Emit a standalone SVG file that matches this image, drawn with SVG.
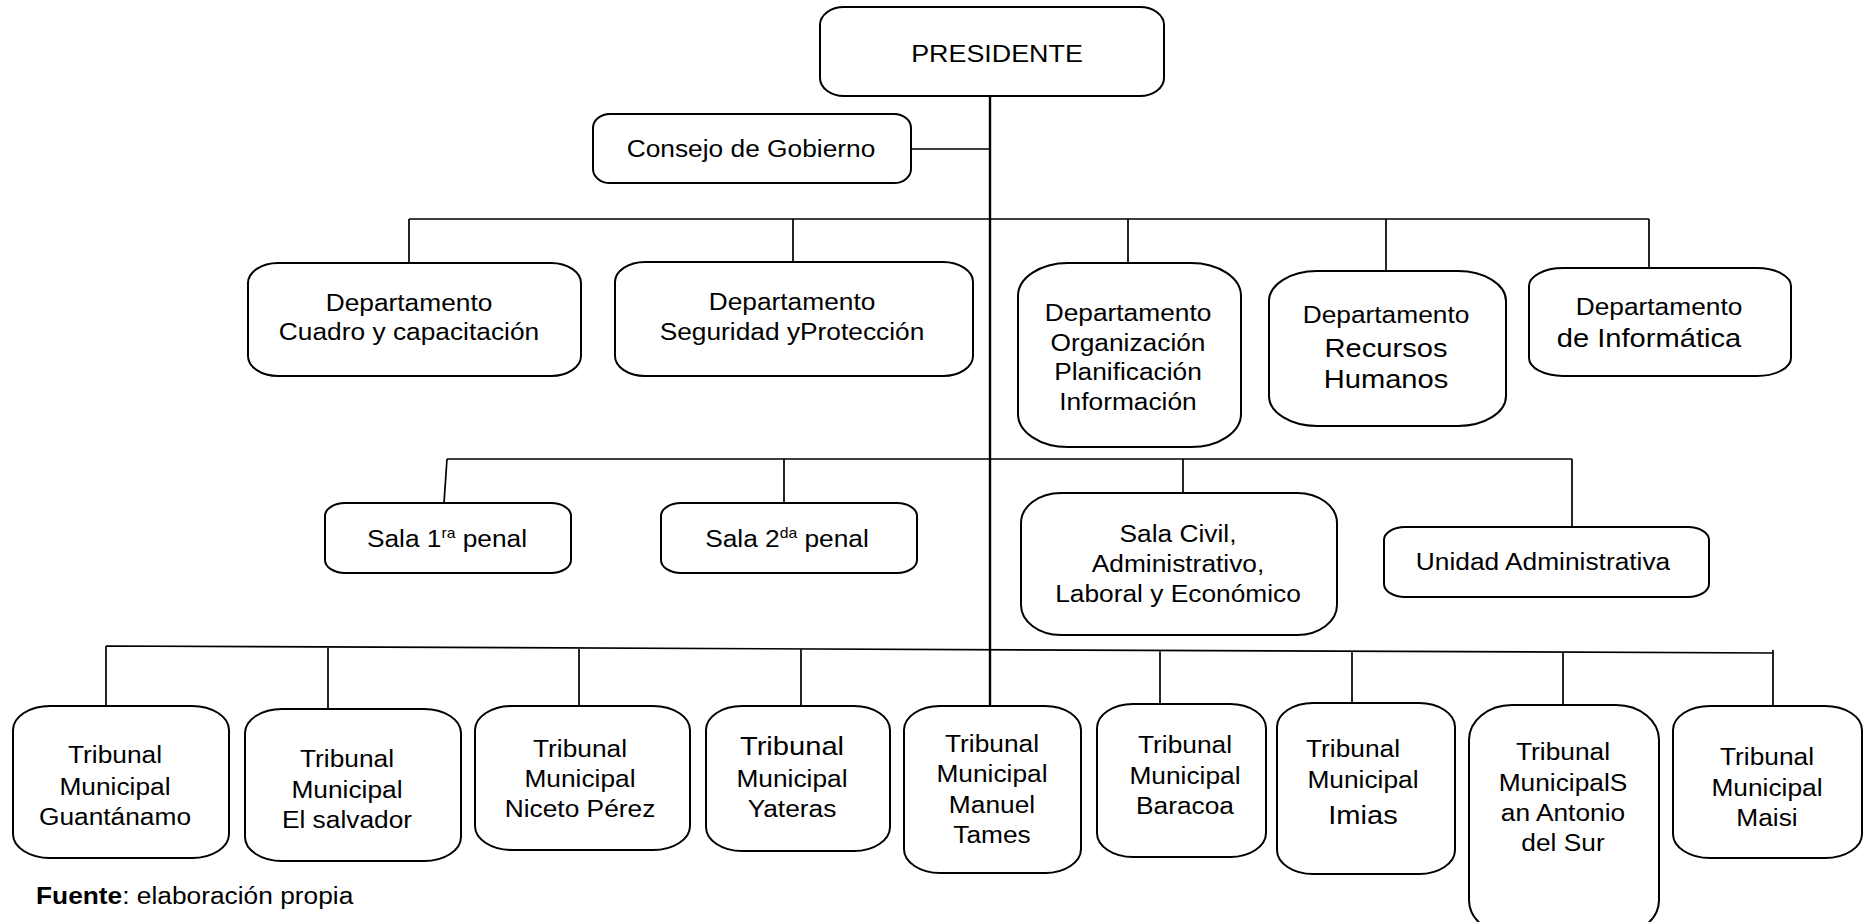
<svg xmlns="http://www.w3.org/2000/svg" width="1871" height="922" viewBox="0 0 1871 922">
<style>
.box{fill:#fff;stroke:#000;stroke-width:2}
.ln{stroke:#000;stroke-width:1.7;fill:none}
.trunk{stroke-width:2.4}
.t{font-family:"Liberation Sans",Arial,sans-serif;font-size:23.5px;fill:#000;text-anchor:middle}
.big{font-size:26px}
.sup{font-size:14px}
</style>
<rect width="1871" height="922" fill="#fff"/>
<g id="connectors">
<path class="ln trunk" d="M990 96 V706"/>
<path class="ln" d="M911 149 H990"/>
<path class="ln" d="M409 219 H1649 M409 219 V263 M793 219 V262 M1128 219 V263 M1386 219 V271 M1649 219 V268"/>
<path class="ln" d="M447 459 H1572 M447 459 L444 503 M784 459 V503 M1183 459 V493 M1572 459 V527"/>
<path class="ln" d="M106 646 L1773 653 M106 646 V706 M328 647 V709 M579 648 V706 M801 649 V706 M1160 650 V704 M1352 651 V703 M1563 652 V705 M1773 650 V706"/>
</g>
<g id="presidente">
<rect class="box" x="820" y="7" width="344" height="89" rx="24" ry="18"/>
<text class="t" style="font-size:24px" transform="translate(997 0) scale(1.12 1)" x="0" y="62">PRESIDENTE</text>
</g>
<g id="consejo">
<rect class="box" x="593" y="114" width="318" height="69" rx="17" ry="14"/>
<text class="t" transform="translate(751 0) scale(1.12 1)" x="0" y="157">Consejo de Gobierno</text>
</g>
<g id="dep-cuadro">
<rect class="box" x="248" y="263" width="333" height="113" rx="30" ry="20"/>
<text class="t" transform="translate(409 0) scale(1.12 1)"><tspan x="0" y="311">Departamento</tspan><tspan x="0" y="340">Cuadro y capacitación</tspan></text>
</g>
<g id="dep-seguridad">
<rect class="box" x="615" y="262" width="358" height="114" rx="30" ry="20"/>
<text class="t" transform="translate(792 0) scale(1.12 1)"><tspan x="0" y="310">Departamento</tspan><tspan x="0" y="340">Seguridad yProtección</tspan></text>
</g>
<g id="dep-organizacion">
<rect class="box" x="1018" y="263" width="223" height="184" rx="50" ry="33"/>
<text class="t" transform="translate(1128 0) scale(1.12 1)"><tspan x="0" y="321">Departamento</tspan><tspan x="0" y="351">Organización</tspan><tspan x="0" y="380">Planificación</tspan><tspan x="0" y="410">Información</tspan></text>
</g>
<g id="dep-rrhh">
<rect class="box" x="1269" y="271" width="237" height="155" rx="48" ry="30"/>
<text class="t" transform="translate(1386 0) scale(1.12 1)"><tspan x="0" y="323">Departamento</tspan><tspan class="big" x="0" y="357">Recursos</tspan><tspan class="big" x="0" y="388">Humanos</tspan></text>
</g>
<g id="dep-informatica">
<rect class="box" x="1529" y="268" width="262" height="108" rx="34" ry="18"/>
<text class="t" transform="translate(1659 0) scale(1.12 1)" x="0" y="315">Departamento</text>
<text class="t big" transform="translate(1649 0) scale(1.12 1)" x="0" y="347">de Informática</text>
</g>
<g id="sala1">
<rect class="box" x="325" y="503" width="246" height="70" rx="20" ry="13"/>
<text class="t" transform="translate(447 0) scale(1.12 1)" x="0" y="547">Sala 1<tspan class="sup" dy="-9">ra</tspan><tspan dy="9"> penal</tspan></text>
</g>
<g id="sala2">
<rect class="box" x="661" y="503" width="256" height="70" rx="20" ry="13"/>
<text class="t" transform="translate(787 0) scale(1.12 1)" x="0" y="547">Sala 2<tspan class="sup" dy="-9">da</tspan><tspan dy="9"> penal</tspan></text>
</g>
<g id="sala-civil">
<rect class="box" x="1021" y="493" width="316" height="142" rx="40" ry="30"/>
<text class="t" transform="translate(1178 0) scale(1.12 1)"><tspan x="0" y="542">Sala Civil,</tspan><tspan x="0" y="572">Administrativo,</tspan><tspan x="0" y="602">Laboral y Económico</tspan></text>
</g>
<g id="unidad">
<rect class="box" x="1384" y="527" width="325" height="70" rx="21" ry="13"/>
<text class="t" transform="translate(1543 0) scale(1.12 1)" x="0" y="570">Unidad Administrativa</text>
</g>
<g id="tm-guantanamo">
<rect class="box" x="13" y="706" width="216" height="152" rx="37" ry="24"/>
<text class="t" transform="translate(115 0) scale(1.12 1)"><tspan x="0" y="763">Tribunal</tspan><tspan x="0" y="795">Municipal</tspan><tspan x="0" y="825">Guantánamo</tspan></text>
</g>
<g id="tm-salvador">
<rect class="box" x="245" y="709" width="216" height="152" rx="37" ry="24"/>
<text class="t" transform="translate(347 0) scale(1.12 1)"><tspan x="0" y="767">Tribunal</tspan><tspan x="0" y="798">Municipal</tspan><tspan x="0" y="828">El salvador</tspan></text>
</g>
<g id="tm-niceto">
<rect class="box" x="475" y="706" width="215" height="144" rx="37" ry="24"/>
<text class="t" transform="translate(580 0) scale(1.12 1)"><tspan x="0" y="757">Tribunal</tspan><tspan x="0" y="787">Municipal</tspan><tspan x="0" y="817">Niceto Pérez</tspan></text>
</g>
<g id="tm-yateras">
<rect class="box" x="706" y="706" width="184" height="145" rx="36" ry="24"/>
<text class="t" transform="translate(792 0) scale(1.12 1)"><tspan class="big" x="0" y="755">Tribunal</tspan><tspan x="0" y="787">Municipal</tspan><tspan x="0" y="817">Yateras</tspan></text>
</g>
<g id="tm-manuel-tames">
<rect class="box" x="904" y="706" width="177" height="167" rx="36" ry="24"/>
<text class="t" transform="translate(992 0) scale(1.12 1)"><tspan x="0" y="752">Tribunal</tspan><tspan x="0" y="782">Municipal</tspan><tspan x="0" y="813">Manuel</tspan><tspan x="0" y="843">Tames</tspan></text>
</g>
<g id="tm-baracoa">
<rect class="box" x="1097" y="704" width="169" height="153" rx="36" ry="24"/>
<text class="t" transform="translate(1185 0) scale(1.12 1)"><tspan x="0" y="753">Tribunal</tspan><tspan x="0" y="784">Municipal</tspan><tspan x="0" y="814">Baracoa</tspan></text>
</g>
<g id="tm-imias">
<rect class="box" x="1277" y="703" width="178" height="171" rx="36" ry="24"/>
<text class="t" transform="translate(1353 0) scale(1.12 1)" x="0" y="757">Tribunal</text>
<text class="t" transform="translate(1363 0) scale(1.12 1)"><tspan x="0" y="788">Municipal</tspan><tspan class="big" x="0" y="824">Imias</tspan></text>
</g>
<g id="tm-san-antonio">
<rect class="box" x="1469" y="705" width="190" height="230" rx="43" ry="35"/>
<text class="t" transform="translate(1563 0) scale(1.12 1)"><tspan x="0" y="760">Tribunal</tspan><tspan x="0" y="791">MunicipalS</tspan><tspan x="0" y="821">an Antonio</tspan><tspan x="0" y="851">del Sur</tspan></text>
</g>
<g id="tm-maisi">
<rect class="box" x="1673" y="706" width="189" height="152" rx="37" ry="24"/>
<text class="t" transform="translate(1767 0) scale(1.12 1)"><tspan x="0" y="765">Tribunal</tspan><tspan x="0" y="796">Municipal</tspan><tspan x="0" y="826">Maisi</tspan></text>
</g>
<g id="fuente">
<text class="t" style="text-anchor:start" transform="translate(36 0) scale(1.12 1)" x="0" y="904"><tspan font-weight="bold">Fuente</tspan>: elaboración propia</text>
</g>
</svg>
